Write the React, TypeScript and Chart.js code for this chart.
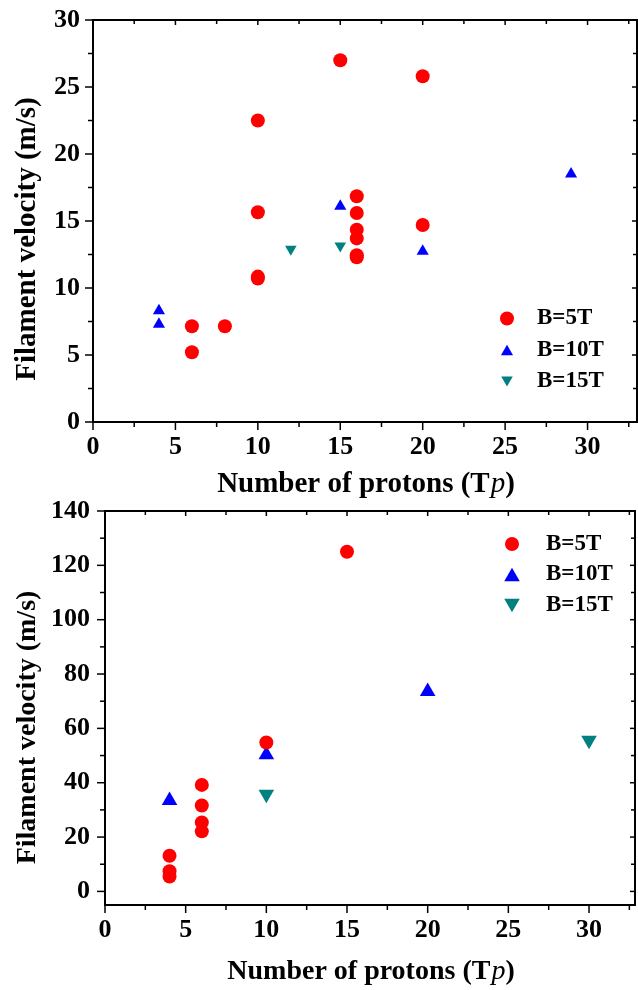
import React, { useEffect, useRef } from 'react';
import { Chart, registerables } from 'chart.js';

Chart.register(...registerables);

const FAMILY = "'Liberation Serif', 'Times New Roman', serif";

const SERIES_LABELS = ['B=5T', 'B=10T', 'B=15T'];
const SERIES_COLORS = ['#FF0000', '#0000FF', '#008080'];

const Y_TITLE = 'Filament velocity (m/s)';
const X_TITLE_MAIN = 'Number of protons (T';
const X_TITLE_SYMBOL = 'p';
const X_TITLE_END = ')';

// ---- Top panel data ----
const TOP_B5_X = [6, 6, 8, 10, 10, 10, 10, 15, 16, 16, 16, 16, 16, 16, 20, 20];
const TOP_B5_Y = [7.15, 5.2, 7.15, 10.7, 10.85, 15.65, 22.5, 27.0, 16.85, 15.6, 14.35, 13.7, 12.45, 12.3, 25.8, 14.7];
const TOP_B10_X = [4, 4, 15, 20, 29];
const TOP_B10_Y = [8.3, 7.3, 16.1, 12.75, 18.5];
const TOP_B15_X = [12, 15];
const TOP_B15_Y = [12.9, 13.15];
const TOP_X_TICKS = [0, 5, 10, 15, 20, 25, 30];
const TOP_Y_TICKS = [0, 5, 10, 15, 20, 25, 30];

// ---- Bottom panel data ----
const BOT_B5_X = [4, 4, 4, 6, 6, 6, 6, 10, 15];
const BOT_B5_Y = [5.5, 7.4, 13.1, 22.1, 25.4, 31.6, 39.2, 54.8, 125];
const BOT_B10_X = [4, 10, 20];
const BOT_B10_Y = [33.5, 50.3, 73.6];
const BOT_B15_X = [10, 30];
const BOT_B15_Y = [35.8, 55.6];
const BOT_X_TICKS = [0, 5, 10, 15, 20, 25, 30];
const BOT_Y_TICKS = [0, 20, 40, 60, 80, 100, 120, 140];

type Panel = {
  W: number; H: number; top: number;
  plotLeft: number; plotTop: number; plotRight: number; plotBottom: number;
  xMin: number; xMax: number; yMin: number; yMax: number;
  xMinor: number; yMinor: number;
  xTicks: number[]; yTicks: number[];
  xTickPad: number; yTickPad: number; tickFont: number;
  titleFont: number; xTitleCx: number; xTitleBase: number; yTitleBase: number; yTitleCy: number;
  legendMarkerX: number; legendTextX: number; legendRows: number[]; legendFont: number;
  radii: number[];
  series: { xs: number[]; ys: number[] }[];
};

const TOP: Panel = {
  W: 638, H: 500, top: 0,
  plotLeft: 93, plotTop: 20, plotRight: 637, plotBottom: 422,
  xMin: 0, xMax: 33, yMin: 0, yMax: 30,
  xMinor: 2.5, yMinor: 2.5,
  xTicks: TOP_X_TICKS, yTicks: TOP_Y_TICKS,
  xTickPad: 9.5, yTickPad: 13, tickFont: 26,
  titleFont: 29, xTitleCx: 365.5, xTitleBase: 492, yTitleBase: 35, yTitleCy: 239,
  legendMarkerX: 507, legendTextX: 537, legendRows: [318.5, 350, 381.5], legendFont: 23,
  radii: [7, 7, 6.7],
  series: [
    { xs: TOP_B5_X, ys: TOP_B5_Y },
    { xs: TOP_B10_X, ys: TOP_B10_Y },
    { xs: TOP_B15_X, ys: TOP_B15_Y },
  ],
};

const BOTTOM: Panel = {
  W: 638, H: 490, top: 500,
  plotLeft: 105, plotTop: 11, plotRight: 635, plotBottom: 405,
  xMin: 0, xMax: 32.85, yMin: -5, yMax: 140,
  xMinor: 2.5, yMinor: 10,
  xTicks: BOT_X_TICKS, yTicks: BOT_Y_TICKS,
  xTickPad: 10, yTickPad: 15, tickFont: 26,
  titleFont: 28, xTitleCx: 370.5, xTitleBase: 479, yTitleBase: 35, yTitleCy: 227.5,
  legendMarkerX: 512, legendTextX: 546, legendRows: [44, 74.5, 105.5], legendFont: 23,
  radii: [7, 9, 9],
  series: [
    { xs: BOT_B5_X, ys: BOT_B5_Y },
    { xs: BOT_B10_X, ys: BOT_B10_Y },
    { xs: BOT_B15_X, ys: BOT_B15_Y },
  ],
};

const STYLES = [
  { pointStyle: 'circle', rotation: 0 },
  { pointStyle: 'triangle', rotation: 0 },
  { pointStyle: 'triangle', rotation: 180 },
];

function drawMarker(ctx: CanvasRenderingContext2D, style: string, rot: number, x: number, y: number, r: number, color: string) {
  ctx.fillStyle = color;
  ctx.beginPath();
  if (style === 'circle') {
    ctx.arc(x, y, r, 0, Math.PI * 2);
  } else {
    const h = r * Math.sqrt(3) / 2;
    const ht = 1.5 * r;
    if (rot === 180) {
      ctx.moveTo(x - h, y - ht / 2);
      ctx.lineTo(x + h, y - ht / 2);
      ctx.lineTo(x, y + ht / 2);
    } else {
      ctx.moveTo(x - h, y + ht / 2);
      ctx.lineTo(x + h, y + ht / 2);
      ctx.lineTo(x, y - ht / 2);
    }
    ctx.closePath();
  }
  ctx.fill();
}

function makeDecor(P: Panel) {
  return {
    id: 'decor',
    afterDatasetsDraw(chart: any) {
      const ctx: CanvasRenderingContext2D = chart.ctx;
      const a = chart.chartArea;
      const xs = chart.scales.x;
      const ys = chart.scales.y;
      ctx.save();
      ctx.strokeStyle = '#000';
      ctx.lineWidth = 2;
      ctx.strokeRect(a.left, a.top, a.right - a.left, a.bottom - a.top);
      ctx.lineWidth = 1.5;
      const line = (x1: number, y1: number, x2: number, y2: number) => {
        ctx.beginPath(); ctx.moveTo(x1, y1); ctx.lineTo(x2, y2); ctx.stroke();
      };
      const isMajor = (v: number, arr: number[]) => arr.some((t) => Math.abs(t - v) < 1e-6);
      for (let v = Math.ceil(P.xMin / P.xMinor) * P.xMinor; v <= P.xMax + 1e-9; v += P.xMinor) {
        const px = xs.getPixelForValue(v);
        const major = isMajor(v, P.xTicks);
        line(px, a.bottom, px, a.bottom + (major ? 8 : 5));
        line(px, a.top, px, a.top + (major ? 5 : 4));
      }
      for (let v = Math.ceil(P.yMin / P.yMinor) * P.yMinor; v <= P.yMax + 1e-9; v += P.yMinor) {
        const py = ys.getPixelForValue(v);
        const major = isMajor(v, P.yTicks);
        line(a.left, py, a.left - (major ? 8 : 5), py);
        line(a.right, py, a.right - (major ? 5 : 4), py);
      }

      // Legend
      ctx.font = `bold ${P.legendFont}px ${FAMILY}`;
      ctx.textAlign = 'left';
      ctx.textBaseline = 'middle';
      chart.data.datasets.forEach((ds: any, i: number) => {
        const y = P.legendRows[i];
        drawMarker(ctx, ds.pointStyle, ds.pointRotation, P.legendMarkerX, y, ds.pointRadius, ds.backgroundColor);
        ctx.fillStyle = '#000';
        ctx.fillText(ds.label, P.legendTextX, y);
      });

      // Y title
      ctx.save();
      ctx.font = `bold ${P.titleFont}px ${FAMILY}`;
      ctx.fillStyle = '#000';
      ctx.textAlign = 'center';
      ctx.textBaseline = 'alphabetic';
      ctx.translate(P.yTitleBase, P.yTitleCy);
      ctx.rotate(-Math.PI / 2);
      ctx.fillText(Y_TITLE, 0, 0);
      ctx.restore();

      // X title
      const bold = `bold ${P.titleFont}px ${FAMILY}`;
      const ital = `italic ${P.titleFont}px ${FAMILY}`;
      const parts: [string, string][] = [[X_TITLE_MAIN, bold], [X_TITLE_SYMBOL, ital], [X_TITLE_END, bold]];
      let total = 0;
      const widths = parts.map(([t, f]) => { ctx.font = f; const w = ctx.measureText(t).width; total += w; return w; });
      let x = P.xTitleCx - total / 2;
      ctx.textAlign = 'left';
      ctx.textBaseline = 'alphabetic';
      ctx.fillStyle = '#000';
      parts.forEach(([t, f], i) => { ctx.font = f; ctx.fillText(t, x, P.xTitleBase); x += widths[i] + (i === 0 ? 1 : 0); });
      ctx.restore();
    },
  };
}

function buildConfig(P: Panel): any {
  const tickFont = { family: FAMILY, weight: 'bold', size: P.tickFont, lineHeight: 1.2 };
  return {
    type: 'scatter',
    data: {
      datasets: P.series.map((s, i) => ({
        label: SERIES_LABELS[i],
        data: s.xs.map((x, j) => ({ x, y: s.ys[j] })),
        pointStyle: STYLES[i].pointStyle,
        pointRotation: STYLES[i].rotation,
        pointRadius: P.radii[i],
        backgroundColor: SERIES_COLORS[i],
        pointBackgroundColor: SERIES_COLORS[i],
        borderColor: SERIES_COLORS[i],
        pointBorderWidth: 0,
        borderWidth: 0,
        showLine: false,
      })),
    },
    options: {
      responsive: false,
      animation: false,
      events: [],
      layout: { autoPadding: false, padding: { left: 0, top: P.plotTop, right: P.W - P.plotRight, bottom: 0 } },
      plugins: { legend: { display: false }, tooltip: { enabled: false } },
      scales: {
        x: {
          type: 'linear', position: 'bottom', min: P.xMin, max: P.xMax,
          grid: { display: false, drawTicks: false },
          border: { display: false },
          afterBuildTicks: (s: any) => { s.ticks = P.xTicks.map((v) => ({ value: v })); },
          afterFit: (s: any) => { s.height = P.H - P.plotBottom; s.paddingLeft = 0; s.paddingRight = 0; },
          ticks: { color: '#000', font: tickFont, padding: P.xTickPad, maxRotation: 0, autoSkip: false, callback: (v: any) => String(v) },
        },
        y: {
          type: 'linear', position: 'left', min: P.yMin, max: P.yMax,
          grid: { display: false, drawTicks: false },
          border: { display: false },
          afterBuildTicks: (s: any) => { s.ticks = P.yTicks.map((v) => ({ value: v })); },
          afterFit: (s: any) => { s.width = P.plotLeft; s.paddingTop = 0; s.paddingBottom = 0; },
          ticks: { color: '#000', font: tickFont, padding: P.yTickPad, autoSkip: false, callback: (v: any) => String(v) },
        },
      },
    },
    plugins: [makeDecor(P)],
  };
}

function Panel({ spec }: { spec: Panel }) {
  const ref = useRef<HTMLCanvasElement | null>(null);
  useEffect(() => {
    if (!ref.current) return;
    const chart = new Chart(ref.current, buildConfig(spec));
    return () => chart.destroy();
  }, [spec]);
  return (
    <canvas
      ref={ref}
      width={spec.W}
      height={spec.H}
      style={{ position: 'absolute', left: 0, top: spec.top, width: spec.W, height: spec.H, display: 'block' }}
    />
  );
}

export default function App() {
  return (
    <div style={{ position: 'absolute', left: 0, top: 0, width: 638, height: 990, background: '#fff' }}>
      <Panel spec={TOP} />
      <Panel spec={BOTTOM} />
    </div>
  );
}
